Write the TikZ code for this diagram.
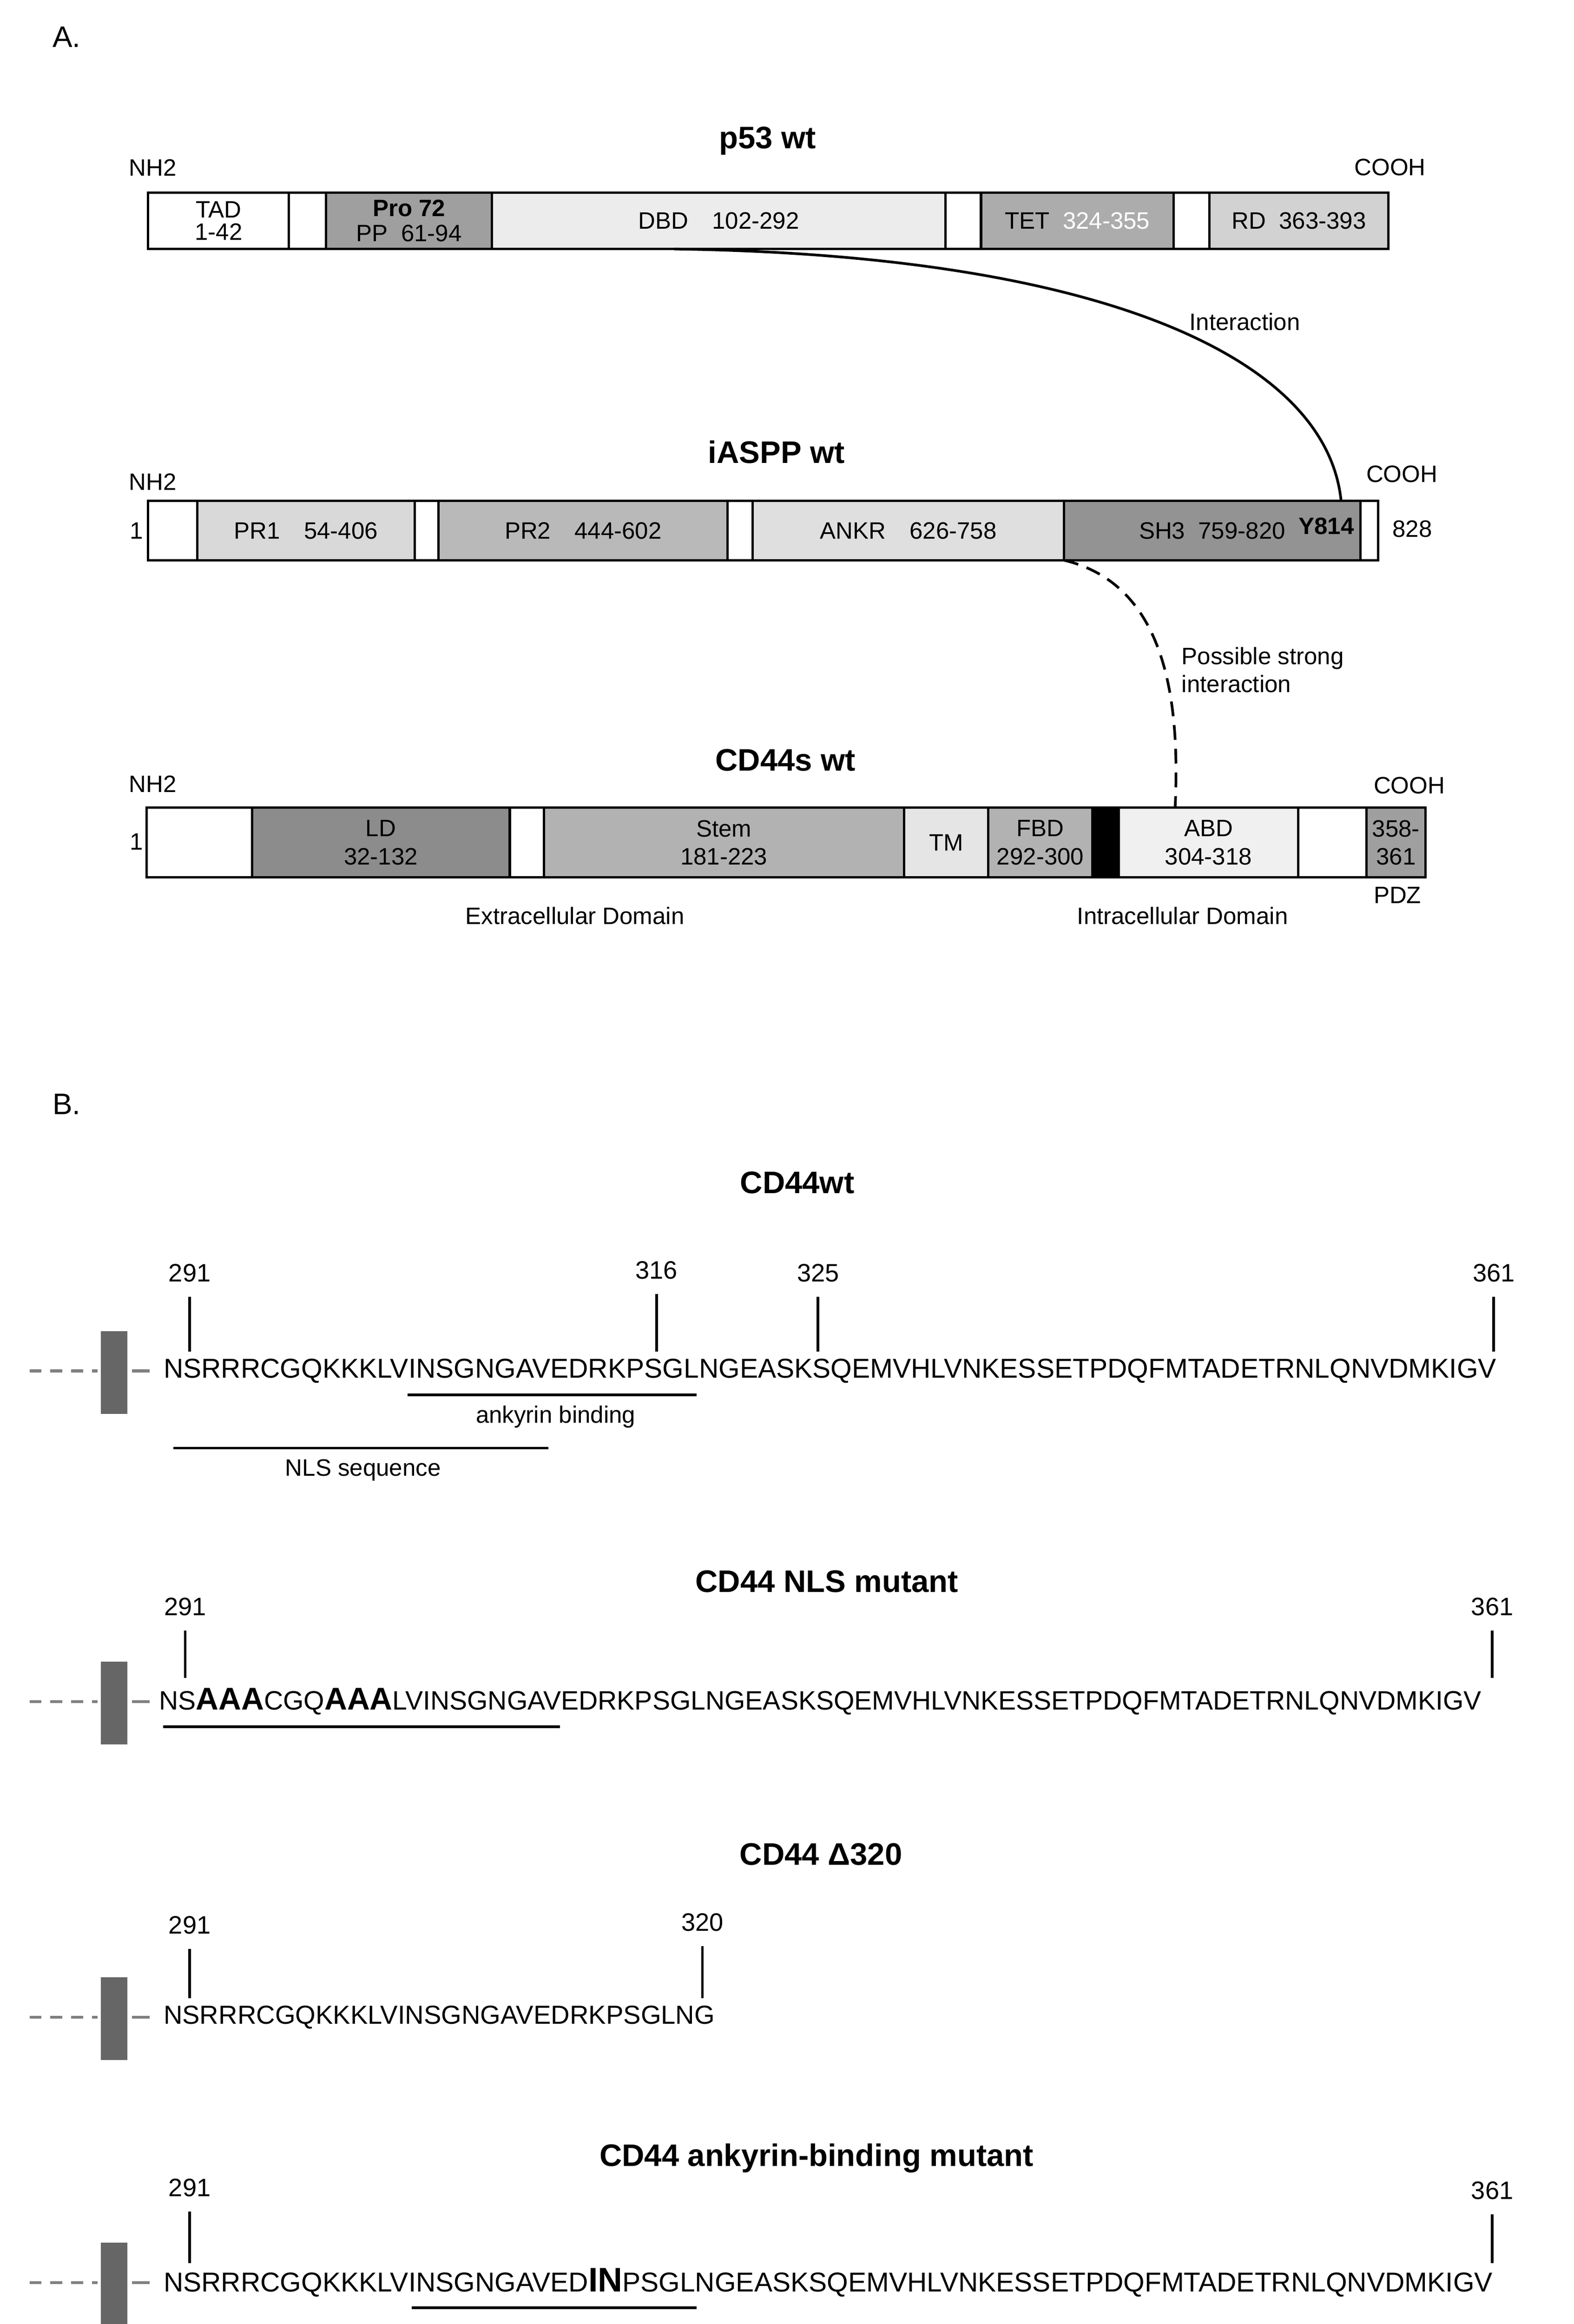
\documentclass[tikz,border=0pt]{standalone}
\usepackage{fontspec}
\setmainfont{Liberation Sans}
\begin{document}
\begin{tikzpicture}[x=0.5pt,y=-0.5pt,
  lab/.style={font=\fontsize{8}{9.5}\selectfont,align=center,inner sep=0pt},
  ttl/.style={font=\fontsize{10.5}{12}\selectfont\bfseries,inner sep=0pt},
  seq/.style={font=\fontsize{9.2}{11}\selectfont,inner sep=0pt,anchor=west},
  num/.style={font=\fontsize{8.5}{10}\selectfont,inner sep=0pt},
  dom/.style={draw=black,line width=0.8pt},
  tick/.style={line width=0.9pt},
  ul/.style={line width=0.9pt}]
\useasboundingbox (0,0) rectangle (1062,1568);
\newcommand\dm[6]{\path[dom,fill=#5] (#1,#3) rectangle (#2,#4); \node[lab] at ({(#1+#2)/2},{(#3+#4)/2}) {#6};}
% ---------- A
\node[font=\fontsize{10}{12}\selectfont,inner sep=0pt] (A) at (45,25) {A.};
% p53
\node[ttl] (t1) at (518,95) {p53 wt};
\node[lab] at (103,113) {NH2};
\node[lab] at (938,113) {COOH};
\dm{100}{195}{130}{168}{white}{TAD\\[-2pt]1-42}
\dm{195}{220}{130}{168}{white}{}
\dm{220}{332}{130}{168}{gray!75}{\textbf{Pro 72}\\[-1pt]PP\ \ 61-94}
\dm{332}{638}{130}{168}{gray!15}{DBD\quad 102-292}
\dm{638}{662}{130}{168}{white}{}
\dm{662}{792}{130}{168}{gray!65}{TET\ \ \textcolor{white}{324-355}}
\dm{792}{816}{130}{168}{white}{}
\dm{816}{937}{130}{168}{gray!35}{RD\ \ 363-393}
\coordinate (dbd) at (455,168);
\coordinate (y814) at (905,338);
\draw[line width=0.9pt] (dbd) .. controls (740,172) and (895,240) .. (y814);
\node[lab] at (840,217) {Interaction};
% iASPP
\node[ttl] (t2) at (524,305) {iASPP wt};
\node[lab] at (103,325) {NH2};
\node[lab] at (946,320) {COOH};
\node[lab] at (92,358) {1};
\node[lab] at (953,357) {828};
\dm{100}{133}{338}{378}{white}{}
\dm{133}{280}{338}{378}{gray!30}{PR1\quad 54-406}
\dm{280}{296}{338}{378}{white}{}
\dm{296}{491}{338}{378}{gray!55}{PR2\quad 444-602}
\dm{491}{508}{338}{378}{white}{}
\dm{508}{718}{338}{378}{gray!25}{ANKR\quad 626-758}
\dm{718}{918}{338}{378}{gray!85}{SH3\ \ 759-820}
\node[lab,font=\fontsize{8}{9}\selectfont\bfseries] at (895,355) {Y814};
\dm{918}{930}{338}{378}{white}{}
\coordinate (ankr) at (718,378);
\coordinate (abd) at (793,545);
\draw[line width=0.9pt,dash pattern=on 5pt off 3pt] (ankr) .. controls (790,395) and (796,480) .. (abd);
\node[lab,align=left,anchor=west] at (797,452) {Possible strong\\interaction};
% CD44
\node[ttl] (t3) at (530,513) {CD44s wt};
\node[lab] at (103,529) {NH2};
\node[lab] at (951,530) {COOH};
\node[lab] at (92,568) {1};
\dm{99}{170}{545}{592}{white}{}
\dm{170}{344}{545}{592}{gray!90}{LD\\32-132}
\dm{344}{367}{545}{592}{white}{}
\dm{367}{610}{545}{592}{gray!60}{Stem\\181-223}
\dm{610}{667}{545}{592}{gray!20}{TM}
\dm{667}{737}{545}{592}{gray!60}{FBD\\292-300}
\dm{737}{755}{545}{592}{black}{}
\dm{755}{876}{545}{592}{gray!12}{ABD\\304-318}
\dm{876}{922}{545}{592}{white}{}
\dm{922}{962}{545}{592}{gray!75}{358-\\361}
\node[lab] at (943,604) {PDZ};
\node[lab] at (388,618) {Extracellular Domain};
\node[lab] at (798,618) {Intracellular Domain};
% ---------- B
\node[font=\fontsize{10}{12}\selectfont,inner sep=0pt] (B) at (45,745) {B.};
\newcommand\stub[1]{%
  \draw[gray,line width=1pt,dash pattern=on 4pt off 3pt] (20,#1) -- (66,#1);
  \fill[gray!80!black] (68,{#1-27}) rectangle (86,{#1+29});
  \draw[gray,line width=1pt] (89,#1) -- (101,#1);}
\newcommand\tk[4]{\draw[tick] (#1,#2) -- (#1,#3); \node[num] at (#1,{#2-16}) {#4};}
% CD44wt
\node[ttl] at (538,798) {CD44wt};
\stub{925}
\node[seq] (s1) at (110,925) {NSRRRCGQKKKLVINSGNGAVEDRKPSGLNGEASKSQEMVHLVNKESSETPDQFMTADETRNLQNVDMKIGV};
\tk{128}{875}{912}{291}
\tk{443}{873}{912}{316}
\tk{552}{875}{912}{325}
\tk{1008}{875}{912}{361}
\draw[ul] (275,941) -- (470,941);
\node[lab] at (375,956) {ankyrin binding};
\draw[ul] (117,977) -- (370,977);
\node[lab] at (245,992) {NLS sequence};
% NLS mutant
\node[ttl] at (558,1067) {CD44 NLS mutant};
\stub{1148}
\node[seq,font=\fontsize{8.95}{11}\selectfont] (s2) at (107,1148) {NS{\fontsize{10.6}{12}\selectfont\bfseries AAA}CGQ{\fontsize{10.6}{12}\selectfont\bfseries AAA}LVINSGNGAVEDRKPSGLNGEASKSQEMVHLVNKESSETPDQFMTADETRNLQNVDMKIGV};
\tk{125}{1100}{1132}{291}
\tk{1007}{1100}{1132}{361}
\draw[ul] (110,1165) -- (378,1165);
% Delta320
\node[ttl] at (554,1251) {CD44 Δ320};
\stub{1361}
\node[seq,font=\fontsize{8.8}{11}\selectfont] (s3) at (110,1361) {NSRRRCGQKKKLVINSGNGAVEDRKPSGLNG};
\tk{128}{1315}{1348}{291}
\tk{474}{1313}{1348}{320}
% ankyrin mutant
\node[ttl] at (551,1456) {CD44 ankyrin-binding mutant};
\stub{1540}
\node[seq] (s4) at (110,1540) {NSRRRCGQKKKLVINSGNGAVED{\fontsize{11.5}{12}\selectfont\bfseries IN}PSGLNGEASKSQEMVHLVNKESSETPDQFMTADETRNLQNVDMKIGV};
\tk{128}{1492}{1527}{291}
\tk{1007}{1494}{1527}{361}
\draw[ul] (278,1557) -- (470,1557);
\end{tikzpicture}
\end{document}
